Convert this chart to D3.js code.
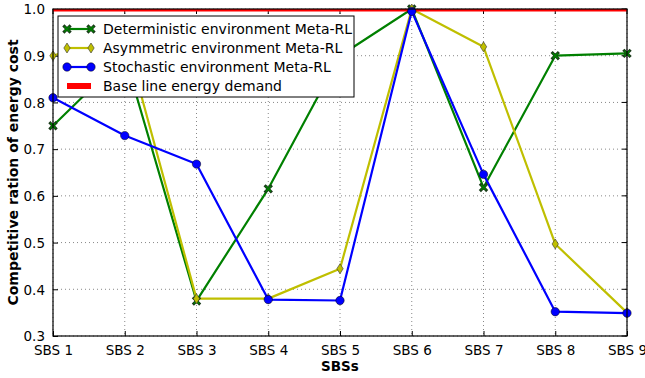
<!DOCTYPE html>
<html>
<head>
<meta charset="utf-8">
<script src="https://cdn.jsdelivr.net/npm/d3@7"></script>
<style>
  body { margin: 0; background: #fff; }
  svg { display: block; font-family: "DejaVu Sans", sans-serif; }
</style>
</head>
<body>
<svg id="chart" width="645" height="378"></svg>
<script>
// Competitive ratio of energy cost per small base station
const categories = ["SBS 1", "SBS 2", "SBS 3", "SBS 4", "SBS 5", "SBS 6", "SBS 7", "SBS 8", "SBS 9"];
const deterministic = [0.75, 0.90, 0.375, 0.615, 0.90, 1.0, 0.618, 0.90, 0.905];
const asymmetric    = [0.90, 0.945, 0.38, 0.38, 0.444, 1.0, 0.919, 0.497, 0.35];
const stochastic    = [0.81, 0.729, 0.668, 0.378, 0.376, 0.995, 0.646, 0.352, 0.349];
const baseline      = [1.0, 1.0, 1.0, 1.0, 1.0, 1.0, 1.0, 1.0, 1.0];
const yTicks = [0.3, 0.4, 0.5, 0.6, 0.7, 0.8, 0.9, 1.0];
const seriesNames = [
  "Deterministic environment Meta-RL",
  "Asymmetric environment Meta-RL",
  "Stochastic environment Meta-RL",
  "Base line energy demand"
];

const W = 645, H = 378;
const margin = { left: 53, right: 18, top: 9, bottom: 42 };
const svg = d3.select("#chart");
const iw = W - margin.left - margin.right;
const ih = H - margin.top - margin.bottom;

const x = d3.scalePoint().domain(categories).range([0, iw]);
const y = d3.scaleLinear().domain([0.3, 1.0]).range([ih, 0]);

const g = svg.append("g").attr("transform", `translate(${margin.left},${margin.top})`);

svg.append("defs").append("clipPath").attr("id", "plotclip")
  .append("rect").attr("width", iw).attr("height", ih);

// dotted grid
g.append("g").selectAll("line.gx").data(categories).join("line")
  .attr("x1", d => x(d)).attr("x2", d => x(d)).attr("y1", 0).attr("y2", ih)
  .attr("stroke", "#888").attr("stroke-width", 1).attr("stroke-dasharray", "1,3");
g.append("g").selectAll("line.gy").data(yTicks).join("line")
  .attr("x1", 0).attr("x2", iw).attr("y1", d => y(d)).attr("y2", d => y(d))
  .attr("stroke", "#888").attr("stroke-width", 1).attr("stroke-dasharray", "1,3");

// axes with inward ticks
const xAxis = d3.axisBottom(x).tickSizeInner(-5).tickSizeOuter(0).tickPadding(9);
const yAxis = d3.axisLeft(y).tickValues(yTicks).tickFormat(d3.format(".1f"))
  .tickSizeInner(-5).tickSizeOuter(0).tickPadding(8);

const gx = g.append("g").attr("transform", `translate(0,${ih})`).call(xAxis);
const gy = g.append("g").call(yAxis);
[gx, gy].forEach(a => {
  a.select(".domain").remove();
  a.selectAll("text").attr("font-size", 13.5).attr("fill", "#000")
    .attr("font-family", "DejaVu Sans, sans-serif");
  a.selectAll("line").attr("stroke", "#000");
});
gy.selectAll("text").attr("dy", "0.35em");

// mirrored ticks on top and right
g.append("g").selectAll("line").data(categories).join("line")
  .attr("x1", d => x(d)).attr("x2", d => x(d)).attr("y1", 0).attr("y2", 5).attr("stroke", "#000");
g.append("g").selectAll("line").data(yTicks).join("line")
  .attr("x1", iw).attr("x2", iw - 5).attr("y1", d => y(d)).attr("y2", d => y(d)).attr("stroke", "#000");

// series
const line = d3.line().x((d, i) => x(categories[i])).y(d => y(d));
const plot = g.append("g").attr("clip-path", "url(#plotclip)");

const greenC = "#008000", yellowC = "#bfbf00", blueC = "#0000ff", redC = "#ff0000";

function xMarker(sel, color) {
  const s = 2.6;
  sel.append("path")
    .attr("d", `M${-s},${-s}L${s},${s}M${-s},${s}L${s},${-s}`)
    .attr("stroke", "#1a3a1a").attr("stroke-width", 3).attr("stroke-linecap", "square");
  sel.append("path")
    .attr("d", `M${-s},${-s}L${s},${s}M${-s},${s}L${s},${-s}`)
    .attr("stroke", color).attr("stroke-width", 1.6);
}
function diamondMarker(sel, color) {
  sel.append("path").attr("d", "M0,-5L3.2,0L0,5L-3.2,0Z")
    .attr("fill", color).attr("stroke", "#333").attr("stroke-width", 0.6);
}
function circleMarker(sel, color) {
  sel.append("circle").attr("r", 4.2).attr("fill", color)
    .attr("stroke", "#000").attr("stroke-width", 0.5);
}

const series = [
  { vals: deterministic, color: greenC, marker: xMarker },
  { vals: asymmetric, color: yellowC, marker: diamondMarker },
  { vals: stochastic, color: blueC, marker: circleMarker }
];

series.forEach(s => {
  plot.append("path").datum(s.vals).attr("d", line)
    .attr("fill", "none").attr("stroke", s.color).attr("stroke-width", 2.2)
    .attr("stroke-linejoin", "round");
  s.vals.forEach((v, i) => {
    const m = g.append("g").attr("transform", `translate(${x(categories[i])},${y(v)})`);
    s.marker(m, s.color);
  });
});

plot.append("path").datum(baseline).attr("d", line)
  .attr("fill", "none").attr("stroke", redC).attr("stroke-width", 5);

// frame
g.append("rect").attr("width", iw).attr("height", ih)
  .attr("fill", "none").attr("stroke", "#000").attr("stroke-width", 1.2);

// axis titles
svg.append("text").attr("x", margin.left + iw / 2).attr("y", 371)
  .attr("text-anchor", "middle").attr("font-size", 13.5).attr("font-weight", "bold")
  .text("SBSs");
svg.append("text")
  .attr("transform", `translate(18,${margin.top + ih / 2}) rotate(-90)`)
  .attr("text-anchor", "middle").attr("font-size", 14).attr("font-weight", "bold")
  .text("Competitive ration of energy cost");

// legend
const lg = svg.append("g").attr("transform", "translate(58,16)");
lg.append("rect").attr("width", 296).attr("height", 81)
  .attr("fill", "#fff").attr("stroke", "#000").attr("stroke-width", 1);
const rowY = [13, 32, 51, 70];
const legendItems = [
  { color: greenC, marker: xMarker, w: 2.2 },
  { color: yellowC, marker: diamondMarker, w: 2.2 },
  { color: blueC, marker: circleMarker, w: 2.2 },
  { color: redC, marker: null, w: 6 }
];
legendItems.forEach((it, i) => {
  const row = lg.append("g").attr("transform", `translate(0,${rowY[i]})`);
  row.append("line").attr("x1", 9).attr("x2", 33).attr("y1", 0).attr("y2", 0)
    .attr("stroke", it.color).attr("stroke-width", it.w);
  if (it.marker) {
    it.marker(row.append("g").attr("transform", "translate(9,0)"), it.color);
    it.marker(row.append("g").attr("transform", "translate(33,0)"), it.color);
  }
  row.append("text").attr("x", 45).attr("y", 0).attr("dy", "0.35em")
    .attr("font-size", 14).text(seriesNames[i]);
});
</script>
</body>
</html>
